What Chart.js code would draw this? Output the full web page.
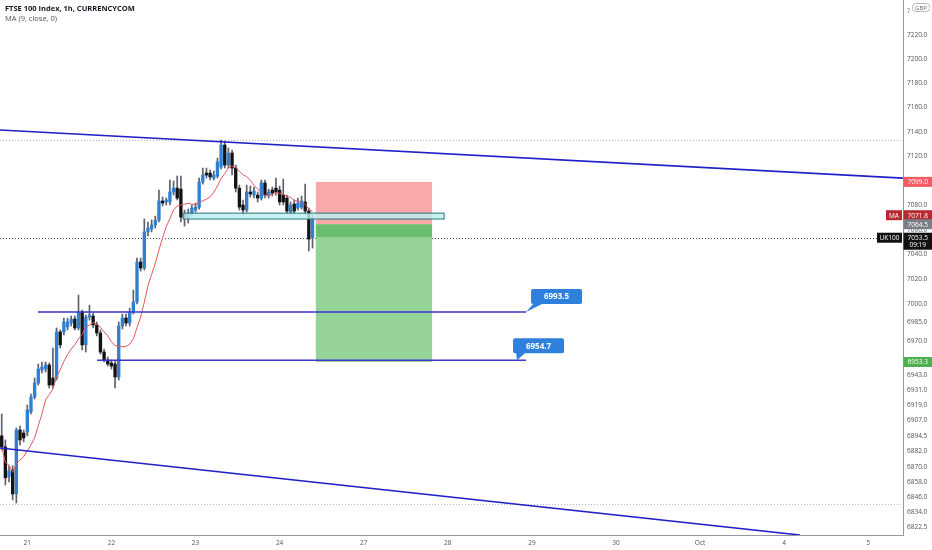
<!DOCTYPE html>
<html>
<head>
<meta charset="utf-8">
<script src="https://cdn.jsdelivr.net/npm/chart.js@4.4.0/dist/chart.umd.min.js"></script>
<style>
  html, body { margin: 0; padding: 0; background: #fff; }
  #wrap { position: relative; width: 932px; height: 550px; }
</style>
</head>
<body>
<div id="wrap"><canvas id="chart"></canvas></div>
<script>
// FTSE 100, 1h candles, first bar sits 7 bars before the 21st
const firstBar = -7;
const barsPerDay = 23;
const dayLabels = ['21', '22', '23', '24', '27', '28', '29', '30', 'Oct', '4', '5'];

const opens = [
  6894.4, 6885.7, 6862.0, 6867.5, 6848.5, 6899.1, 6896.7, 6897.5, 6913.4, 6925.3,
  6936.5, 6946.9, 6947.7, 6950.9, 6940.5, 6940.5, 6977.4, 6977.4, 6981.4, 6984.6,
  6987.8, 6980.6, 6993.4, 6967.0, 6989.4, 6990.2, 6983.0, 6976.6, 6961.3, 6954.9,
  6952.5, 6951.7, 6941.3, 6982.2, 6988.6, 6984.6, 6993.4, 7001.5, 7033.8, 7028.9,
  7058.2, 7060.6, 7063.8, 7067.9, 7083.4, 7082.6, 7082.6, 7090.7, 7093.9, 7093.1,
  7072.8, 7069.5, 7072.8, 7076.0, 7078.4, 7098.9, 7106.2, 7106.2, 7102.1, 7103.8,
  7111.1, 7129.2, 7112.8, 7122.6, 7110.3, 7093.9, 7080.1, 7076.0, 7090.7, 7088.2,
  7088.2, 7085.8, 7098.1, 7088.2, 7092.3, 7093.9, 7092.3, 7088.2, 7085.8, 7074.4,
  7080.9, 7077.6, 7078.4, 7082.6, 7075.2, 7053.3
];
const highs = [
  6911.8, 6891.2, 6870.7, 6870.7, 6900.7, 6902.2, 6899.1, 6919.0, 6927.7, 6940.5,
  6951.7, 6953.3, 6953.3, 6952.5, 6964.5, 6980.6, 6979.0, 6988.6, 6988.6, 6990.2,
  6990.2, 7007.1, 6995.0, 6991.0, 6999.0, 6992.6, 6985.4, 6979.0, 6963.7, 6957.3,
  6954.9, 6954.1, 6985.4, 6991.8, 6991.8, 6996.6, 7011.1, 7037.0, 7037.0, 7068.7,
  7066.3, 7067.9, 7071.1, 7092.3, 7086.6, 7085.8, 7100.5, 7099.7, 7103.8, 7103.8,
  7076.0, 7076.8, 7080.1, 7081.7, 7102.1, 7110.3, 7110.3, 7108.7, 7107.9, 7118.5,
  7133.3, 7132.5, 7126.7, 7125.1, 7112.8, 7096.4, 7084.2, 7096.4, 7095.6, 7094.8,
  7090.7, 7100.5, 7100.5, 7093.1, 7094.8, 7102.1, 7095.6, 7101.3, 7088.2, 7082.6,
  7084.2, 7085.8, 7087.4, 7097.2, 7077.6, 7071.9
];
const lows = [
  6883.3, 6855.6, 6858.0, 6843.8, 6841.4, 6887.3, 6889.6, 6894.4, 6911.8, 6923.7,
  6934.9, 6944.5, 6945.3, 6932.5, 6932.5, 6938.9, 6964.5, 6975.0, 6979.0, 6982.2,
  6979.0, 6979.0, 6962.9, 6961.3, 6987.0, 6980.6, 6974.2, 6959.7, 6953.3, 6950.1,
  6947.7, 6932.5, 6938.9, 6979.8, 6982.2, 6982.2, 6991.8, 6999.9, 7026.5, 7027.3,
  7055.0, 7058.2, 7061.4, 7066.3, 7079.3, 7080.1, 7080.1, 7088.2, 7084.2, 7066.3,
  7063.0, 7065.5, 7071.1, 7074.4, 7076.8, 7097.2, 7102.1, 7100.5, 7100.5, 7102.1,
  7109.5, 7110.3, 7110.3, 7104.6, 7090.7, 7076.0, 7071.9, 7074.4, 7086.6, 7085.8,
  7082.6, 7084.2, 7085.8, 7085.8, 7087.4, 7088.2, 7080.1, 7080.1, 7072.8, 7072.8,
  7073.5, 7076.0, 7076.8, 7072.8, 7042.7, 7045.1
];
const closes = [
  6885.7, 6861.2, 6866.7, 6848.5, 6899.1, 6891.2, 6892.8, 6915.0, 6925.3, 6936.5,
  6947.7, 6949.3, 6950.9, 6934.9, 6934.9, 6977.4, 6967.0, 6985.4, 6985.4, 6987.8,
  6980.6, 6993.4, 6967.0, 6989.4, 6991.0, 6983.0, 6976.6, 6961.3, 6954.9, 6951.7,
  6950.1, 6941.3, 6982.2, 6988.6, 6984.6, 6993.4, 7001.5, 7033.8, 7028.9, 7058.2,
  7061.4, 7063.8, 7067.9, 7083.4, 7081.7, 7084.2, 7090.7, 7093.9, 7085.8, 7070.3,
  7069.5, 7073.5, 7077.6, 7078.4, 7098.9, 7104.6, 7104.6, 7103.0, 7104.6, 7115.3,
  7129.2, 7112.8, 7122.6, 7110.3, 7093.9, 7078.4, 7076.0, 7090.7, 7089.1, 7091.5,
  7085.8, 7098.1, 7088.2, 7090.7, 7089.9, 7090.7, 7082.6, 7082.6, 7075.2, 7080.1,
  7075.2, 7081.7, 7083.4, 7075.2, 7052.4, 7069.5
];
const maPeriod = 9;

const yTicks = [7240, 7220, 7200, 7180, 7160, 7140, 7120, 7100, 7080, 7060, 7040, 7020, 7000,
  6985, 6970, 6943, 6931, 6919, 6907, 6894.5, 6882, 6870, 6858, 6846, 6834, 6822.5];

// drawings, in bar index / price
const channelTop = [{ x: -7.47, y: 7141.5 }, { x: 239.5, y: 7102.1 }];
const channelBottom = [{ x: -7.47, y: 6884.8 }, { x: 211.3, y: 6816.2 }];
const levelHigh = [{ x: 2.9, y: 6993.5 }, { x: 136.4, y: 6993.5 }];
const levelLow = [{ x: 19.1, y: 6954.7 }, { x: 136.4, y: 6954.7 }];
const markPrices = [7133.3, 6840.6];
const zone = { from: 42.6, to: 114, top: 7073.5, bottom: 7068.7 };
const position = { from: 78.9, to: 110.7, stop: 7099.0, entry: 7064.5, target: 6953.3 };
const lastPrice = 7053.5;
const maLast = 7071.8;

const barX = opens.map((_, i) => firstBar + i);
const maValues = closes.map((c, i) => {
  const win = closes.slice(Math.max(0, i - maPeriod + 1), i + 1);
  return win.reduce((s, v) => s + v, 0) / win.length;
});
const upColor = '#2f80d3', downColor = '#131313';
const bodyColors = opens.map((o, i) => closes[i] >= o ? upColor : downColor);

const font = '"Open Sans", "DejaVu Sans", sans-serif';

function roundRect(ctx, x, y, w, h, r) {
  ctx.beginPath();
  ctx.moveTo(x + r, y);
  ctx.lineTo(x + w - r, y); ctx.quadraticCurveTo(x + w, y, x + w, y + r);
  ctx.lineTo(x + w, y + h - r); ctx.quadraticCurveTo(x + w, y + h, x + w - r, y + h);
  ctx.lineTo(x + r, y + h); ctx.quadraticCurveTo(x, y + h, x, y + h - r);
  ctx.lineTo(x, y + r); ctx.quadraticCurveTo(x, y, x + r, y);
  ctx.closePath();
}

function tag(ctx, x, y, w, h, bg, text) {
  ctx.fillStyle = bg;
  ctx.fillRect(x, y, w, h);
  ctx.fillStyle = '#fff';
  ctx.font = '6.5px ' + font;
  ctx.textAlign = 'center';
  ctx.textBaseline = 'middle';
  ctx.fillText(text, x + w / 2, y + h / 2 + 0.5);
}

// no extra room around the plot, the axes get fixed sizes
function noPadding(s) {
  s.paddingTop = 0; s.paddingBottom = 0; s.paddingLeft = 0; s.paddingRight = 0;
}

const overlay = {
  id: 'overlay',
  beforeDatasetsDraw(chart) {
    const { ctx, chartArea: a, scales: { x, y } } = chart;
    ctx.save();
    ctx.lineWidth = 1;
    ctx.setLineDash([1, 2]);
    ctx.strokeStyle = '#b5b8bf';
    markPrices.forEach(p => {
      const py = Math.round(y.getPixelForValue(p)) + 0.5;
      ctx.beginPath(); ctx.moveTo(a.left, py); ctx.lineTo(a.right, py); ctx.stroke();
    });
    ctx.strokeStyle = '#444';
    const lp = Math.round(y.getPixelForValue(lastPrice)) + 0.5;
    ctx.beginPath(); ctx.moveTo(a.left, lp); ctx.lineTo(a.right, lp); ctx.stroke();
    ctx.setLineDash([]);

    const x0 = x.getPixelForValue(position.from), x1 = x.getPixelForValue(position.to);
    const ys = y.getPixelForValue(position.stop), ye = y.getPixelForValue(position.entry);
    const yl = y.getPixelForValue(lastPrice), yt = y.getPixelForValue(position.target);
    ctx.fillStyle = '#f9a9a9';
    ctx.fillRect(x0, ys, x1 - x0, ye - ys);
    ctx.fillStyle = '#6abd6c';
    ctx.fillRect(x0, ye, x1 - x0, yl - ye);
    ctx.fillStyle = '#95d398';
    ctx.fillRect(x0, yl, x1 - x0, yt - yl);
    ctx.restore();
  },
  afterDatasetsDraw(chart) {
    const { ctx, scales: { x, y } } = chart;
    ctx.save();
    const zx0 = x.getPixelForValue(zone.from), zx1 = x.getPixelForValue(zone.to);
    const zy0 = y.getPixelForValue(zone.top), zy1 = y.getPixelForValue(zone.bottom);
    ctx.fillStyle = 'rgba(190, 238, 240, 0.85)';
    ctx.fillRect(zx0, zy0, zx1 - zx0, zy1 - zy0);
    ctx.strokeStyle = '#2b7379';
    ctx.lineWidth = 1;
    ctx.strokeRect(zx0, zy0, zx1 - zx0, zy1 - zy0);

    // callouts at the end of the two levels
    const callouts = [
      { pt: levelHigh[1], dx: 5, dy: -23, tip: 0, text: '6993.5' },
      { pt: levelLow[1], dx: -13, dy: -22, tip: -9, text: '6954.7' }
    ];
    callouts.forEach(c => {
      const px = x.getPixelForValue(c.pt.x), py = y.getPixelForValue(c.pt.y);
      const bx = px + c.dx, by = py + c.dy, w = 51, h = 15;
      ctx.fillStyle = '#2f7fdc';
      roundRect(ctx, bx, by, w, h, 2);
      ctx.fill();
      ctx.beginPath();
      ctx.moveTo(bx + 3, by + h - 1);
      ctx.lineTo(px + c.tip, py);
      ctx.lineTo(bx + 13, by + h - 1);
      ctx.closePath();
      ctx.fill();
      ctx.fillStyle = '#fff';
      ctx.font = 'bold 8px ' + font;
      ctx.textAlign = 'center';
      ctx.textBaseline = 'middle';
      ctx.fillText(c.text, bx + w / 2, by + h / 2 + 0.5);
    });
    ctx.restore();
  },
  afterDraw(chart) {
    const { ctx, chartArea: a, scales: { y } } = chart;
    ctx.save();
    const lx = a.right + 0.5, lw = chart.width - lx;
    const axisTags = [
      { price: position.stop, bg: '#f45a63' },
      { price: maLast, bg: '#b82830' },
      { price: position.entry, bg: '#7b7e86' },
      { price: position.target, bg: '#4caf50' }
    ];
    axisTags.forEach(t => {
      const py = y.getPixelForValue(t.price);
      tag(ctx, lx, py - 5, lw, 10, t.bg, t.price.toFixed(1));
    });
    const pm = y.getPixelForValue(maLast);
    tag(ctx, a.right - 17, pm - 5, 16, 10, '#b82830', 'MA');

    const pl = y.getPixelForValue(lastPrice);
    ctx.fillStyle = '#111';
    ctx.fillRect(lx, pl - 5, lw, 17);
    ctx.fillStyle = '#fff';
    ctx.font = '6.5px ' + font;
    ctx.textAlign = 'center';
    ctx.textBaseline = 'middle';
    ctx.fillText(lastPrice.toFixed(1), lx + lw / 2, pl + 0.5);
    ctx.fillText('09:19', lx + lw / 2, pl + 7.5);
    tag(ctx, a.right - 26, pl - 5, 25, 10, '#111', 'UK100');

    // currency box
    ctx.fillStyle = '#fff';
    ctx.fillRect(lx + 6, 2, lw - 7, 13);
    ctx.strokeStyle = '#b5b8bf';
    roundRect(ctx, lx + 9, 3.5, 17, 8, 3);
    ctx.stroke();
    ctx.fillStyle = '#6a6d78';
    ctx.font = '6px ' + font;
    ctx.fillText('GBP', lx + 17.5, 8);

    ctx.textAlign = 'left';
    ctx.textBaseline = 'alphabetic';
    ctx.fillStyle = '#131722';
    ctx.font = 'bold 7.5px ' + font;
    ctx.fillText('FTSE 100 Index, 1h, CURRENCYCOM', 5, 11);
    ctx.fillStyle = '#50535e';
    ctx.font = '7.5px ' + font;
    ctx.fillText('MA (9, close, 0)', 5, 21);
    ctx.restore();
  }
};

const lineStyle = (data, color, width, order) => ({
  type: 'line', data, borderColor: color, borderWidth: width,
  pointRadius: 0, fill: false, tension: 0, order
});

new Chart(document.getElementById('chart'), {
  type: 'bar',
  data: {
    datasets: [
      {
        type: 'bar',
        data: barX.map((x, i) => ({ x, y: [lows[i], highs[i]] })),
        backgroundColor: '#5d606b',
        barThickness: 1,
        grouped: false,
        order: 6
      },
      {
        type: 'bar',
        data: barX.map((x, i) => ({ x, y: [opens[i], closes[i]] })),
        backgroundColor: bodyColors,
        barThickness: 2.7,
        minBarLength: 1,
        grouped: false,
        order: 5
      },
      lineStyle(barX.map((x, i) => ({ x, y: maValues[i] })), '#e0585c', 1, 4),
      lineStyle(channelTop, '#1e20c8', 1.6, 3),
      lineStyle(channelBottom, '#1e20c8', 1.6, 3),
      lineStyle(levelHigh, '#3a36c8', 1.6, 3),
      lineStyle(levelLow, '#3a36c8', 1.6, 3)
    ]
  },
  options: {
    responsive: true,
    maintainAspectRatio: false,
    animation: false,
    layout: { padding: 0 },
    plugins: { legend: { display: false }, tooltip: { enabled: false } },
    scales: {
      x: {
        type: 'linear',
        min: -7.47,
        max: 239.5,
        offset: false,
        grid: { display: false, drawTicks: false },
        border: { display: true, color: '#9598a1' },
        afterBuildTicks: s => { s.ticks = dayLabels.map((_, i) => ({ value: i * barsPerDay })); },
        ticks: {
          callback: v => dayLabels[Math.round(v / barsPerDay)],
          autoSkip: false, maxRotation: 0, padding: 4,
          color: '#50535e', font: { size: 6.5, family: font }
        },
        afterFit: s => { s.height = 15; noPadding(s); }
      },
      y: {
        type: 'logarithmic',
        position: 'right',
        min: 6816.2,
        max: 7249.2,
        grid: { display: false, drawTicks: false },
        border: { display: true, color: '#9598a1' },
        afterBuildTicks: s => { s.ticks = yTicks.map(v => ({ value: v })); },
        ticks: {
          callback: v => Number(v).toFixed(1),
          autoSkip: false, padding: 4,
          color: '#50535e', font: { size: 6.5, family: font }
        },
        afterFit: s => { s.width = 29; noPadding(s); }
      }
    }
  },
  plugins: [overlay]
});
</script>
</body>
</html>
